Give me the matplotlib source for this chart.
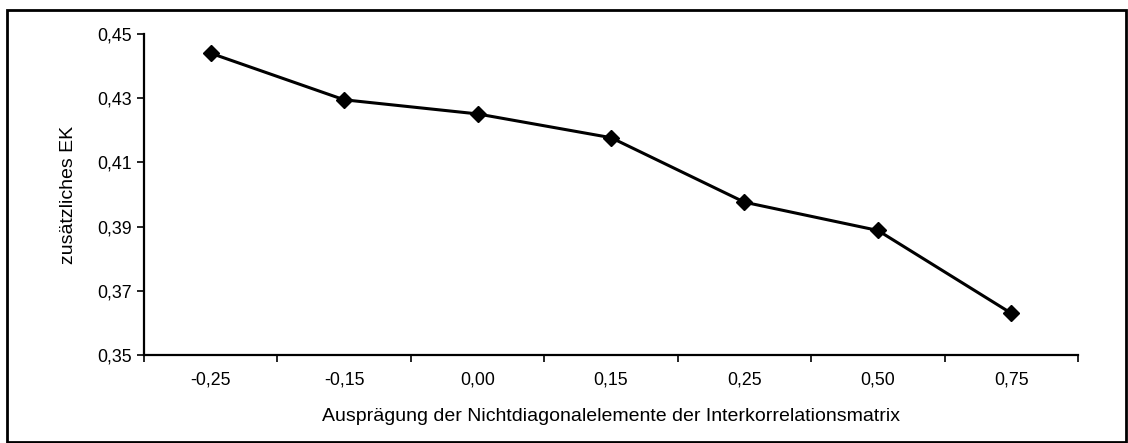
import matplotlib.pyplot as plt
from matplotlib.patches import Rectangle
import numpy as np

plt.rcParams['font.family'] = ['Liberation Sans', 'DejaVu Sans']

categories = ['-0,25', '-0,15', '0,00', '0,15', '0,25', '0,50', '0,75']
values = [0.4440, 0.4295, 0.4251, 0.4177, 0.3976, 0.3888, 0.3630]
y_ticks = [0.35, 0.37, 0.39, 0.41, 0.43, 0.45]
y_labels = ['0,35', '0,37', '0,39', '0,41', '0,43', '0,45']

fig = plt.figure(figsize=(11.28, 4.43), dpi=100)
ax = fig.add_axes([0.1277, 0.1986, 0.8280, 0.7247])

x = np.arange(len(categories))
ax.plot(x, values, color='black', lw=2.2, marker='D', ms=8.5, mfc='black', mec='black')

ax.set_xlim(-0.5, len(categories) - 0.5)
ax.set_ylim(0.35, 0.45)

ax.set_xticks(x)
ax.set_xticklabels(categories, fontsize=12.8)
ax.tick_params(axis='x', which='major', length=0, pad=12)
ax.set_xticks(np.arange(-0.5, len(categories)), minor=True)
ax.tick_params(axis='x', which='minor', length=5, width=1.2, direction='out')

ax.set_yticks(y_ticks)
ax.set_yticklabels(y_labels, fontsize=12.8)
ax.tick_params(axis='y', length=5, width=1.2, direction='out', pad=4)

for s in ['top', 'right']:
    ax.spines[s].set_visible(False)
for s in ['left', 'bottom']:
    ax.spines[s].set_linewidth(1.6)

ax.set_xlabel('Ausprägung der Nichtdiagonalelemente der Interkorrelationsmatrix', fontsize=14, labelpad=14)
ax.set_ylabel('zusätzliches EK', fontsize=14, labelpad=14)

# outer frame of the chart area
fig.patches.append(Rectangle((0.0062, 0.0023), 0.9920, 0.9751, transform=fig.transFigure,
                             fill=False, edgecolor='black', lw=2))

fig.savefig('out.png', dpi=100)
